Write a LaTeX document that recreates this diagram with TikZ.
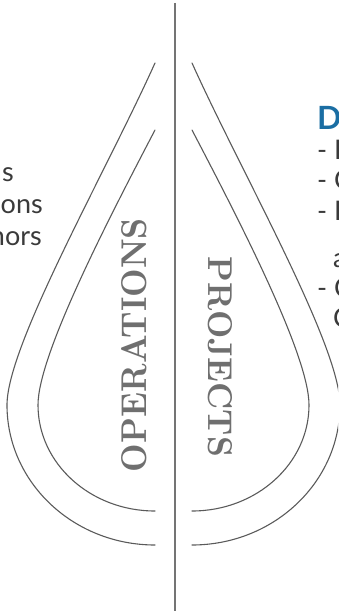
\documentclass[tikz,border=0pt]{standalone}
\usepackage{fontspec}
\usepackage{graphicx}
\newfontfamily\bodyfont{Lato}
\definecolor{curvegray}{HTML}{5A5A5A}
\definecolor{axisgray}{HTML}{747474}
\definecolor{optgray}{HTML}{6F6F6F}
\definecolor{textdark}{HTML}{3A3A3A}
\definecolor{headblue}{HTML}{1B6EA3}
\newcommand\dropHalf{%
  \draw[curve] (155,63) .. controls (105.5,173) and (7,345) .. (7,405)
     .. controls (7,482.3) and (73.3,545) .. (155,545);
  \draw[curve] (155,130) .. controls (108,220) and (38,355) .. (38,405)
     .. controls (38,463.5) and (90.4,511) .. (155,511);
}
\begin{document}
\begin{tikzpicture}[x=1pt,y=-1pt,
  curve/.style={draw=curvegray, line width=1.1pt, line cap=round},
  axisline/.style={draw=axisgray, line width=2pt},
  bodytext/.style={font=\bodyfont\fontsize{27}{30}\selectfont, text=textdark, inner sep=0pt},
  headtext/.style={font=\bodyfont\bfseries\fontsize{32}{36}\selectfont, text=headblue, inner sep=0pt},
  optext/.style={text=optgray, inner sep=0pt, font=\bfseries}]
\useasboundingbox (0,0) rectangle (338,612);
\clip (0,0) rectangle (338,612);
% vertical axis
\coordinate (axtop) at (175,3);
\coordinate (axbot) at (175,611);
\draw[axisline] (axtop) -- (axbot);
% drop halves
\dropHalf
\begin{scope}[xshift=347pt, xscale=-1]
\dropHalf
\end{scope}
% rotated labels
\node[optext, rotate=90] (ops) at (134.5,345) {\resizebox{254pt}{25pt}{OPERATIONS}};
\node[optext, rotate=-90] (proj) at (220,357) {\resizebox{200pt}{24pt}{PROJECTS}};
% left cut-off text
\node[bodytext, anchor=base east] (l1) at (14,182) {s};
\node[bodytext, anchor=base east] (l2) at (43,213) {ons};
\node[bodytext, anchor=base east] (l3) at (42,245) {nors};
% right cut-off text
\node[headtext, anchor=base west] (hd) at (317,130) {D};
\node[bodytext, anchor=base west] (r1) at (317,160) {- I};
\node[bodytext, anchor=base west] (r2) at (317,190) {- C};
\node[bodytext, anchor=base west] (r3) at (317,220) {- I};
\node[bodytext, anchor=base west] (r4) at (333,267) {a};
\node[bodytext, anchor=base west] (r5) at (317,297) {- C};
\node[bodytext, anchor=base west] (r6) at (333,327) {C};
\end{tikzpicture}
\end{document}
